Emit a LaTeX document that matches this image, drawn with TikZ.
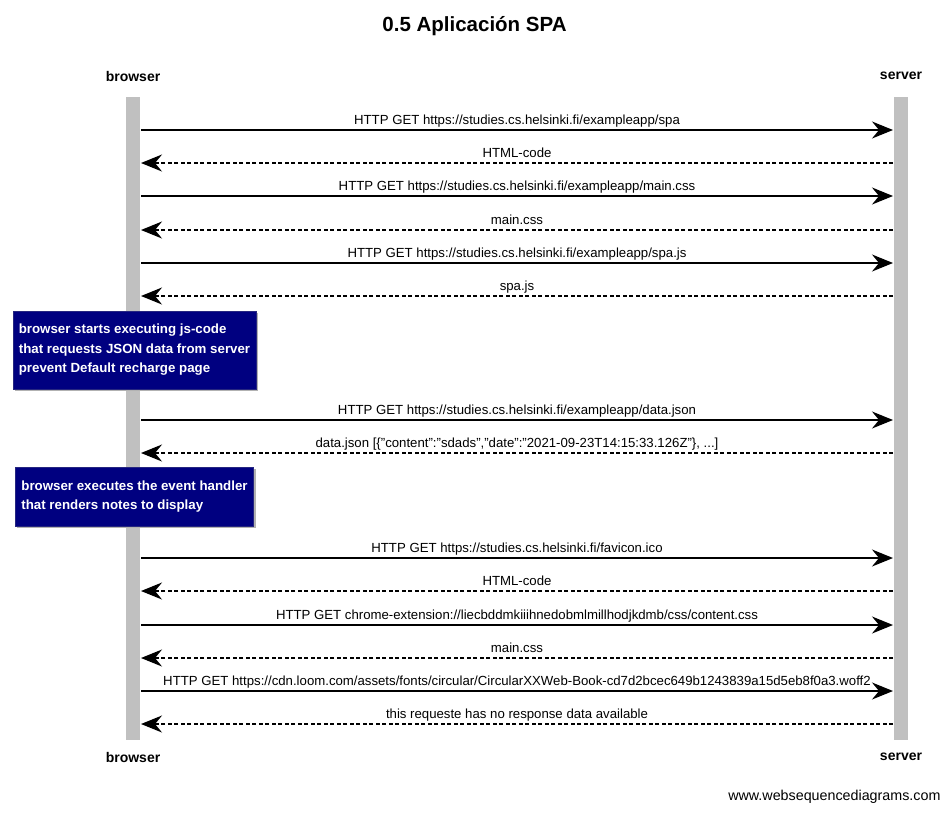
\documentclass[tikz,border=0pt]{standalone}
\usepackage{fontspec}
\setmainfont{Liberation Sans}
\usetikzlibrary{arrows.meta,shadows}
\definecolor{lifegray}{HTML}{C0C0C0}
\definecolor{notenavy}{HTML}{000080}
\tikzset{
  msgreq/.style={line width=1.4pt,-{Stealth[length=21pt,width=17pt,inset=7pt]}},
  msgresp/.style={msgreq,dash pattern=on 4pt off 2.5pt},
  msglabel/.style={midway,above,inner sep=4.5pt,text depth=0pt,font=\fontsize{13.2}{15}\selectfont},
  actor/.style={font=\bfseries\fontsize{14}{16}\selectfont},
  notebox/.style={fill=notenavy,draw=notenavy!70!gray,text=white,align=left,
    font=\bfseries\fontsize{13.3}{19.5}\selectfont,inner xsep=6pt,
    drop shadow={shadow xshift=2pt,shadow yshift=-2pt,fill=gray!60,opacity=1}}
}
\begin{document}
\begin{tikzpicture}[x=1pt,y=-1pt]
        \useasboundingbox[fill=white] (0,0) rectangle (949,812);
        \node[font=\bfseries\fontsize{20.5}{22}\selectfont] (title) at (474.5,26) {0.5 Aplicación SPA};
        % lifelines
        \fill[lifegray] (126,97) rectangle (140,740);
        \fill[lifegray] (894,97) rectangle (908,740);
        \node[actor] (browserTop) at (133,76) {browser};
        \node[actor] (serverTop) at (901,76) {server};
        \node[actor] (browserBot) at (133,757) {browser};
        \node[actor] (serverBot) at (901,757) {server};
        % messages
        \foreach \i/\y/\txt/\sty in {
            1/130/{HTTP GET https://studies.cs.helsinki.fi/exampleapp/spa}/msgreq,
            2/163/{HTML-code}/msgresp,
            3/196/{HTTP GET https://studies.cs.helsinki.fi/exampleapp/main.css}/msgreq,
            4/230/{main.css}/msgresp,
            5/263/{HTTP GET https://studies.cs.helsinki.fi/exampleapp/spa.js}/msgreq,
            6/296/{spa.js}/msgresp,
            7/420/{HTTP GET https://studies.cs.helsinki.fi/exampleapp/data.json}/msgreq,
            8/453/{data.json [\{"content":"sdads","date":"2021-09-23T14:15:33.126Z"\}, ...]}/msgresp,
            9/558/{HTTP GET https://studies.cs.helsinki.fi/favicon.ico}/msgreq,
            10/591/{HTML-code}/msgresp,
            11/625/{HTTP GET chrome-extension://liecbddmkiiihnedobmlmillhodjkdmb/css/content.css}/msgreq,
            12/658/{main.css}/msgresp,
            13/691/{HTTP GET https://cdn.loom.com/assets/fonts/circular/CircularXXWeb-Book-cd7d2bcec649b1243839a15d5eb8f0a3.woff2}/msgreq,
            14/724/{this requeste has no response data available}/msgresp}
        {
            \coordinate (B\i) at (141,\y);
            \coordinate (S\i) at (893,\y);
            \ifodd\i
                \draw[\sty] (B\i) -- (S\i) node[msglabel]{\txt};
            \else
                \draw[\sty] (S\i) -- (B\i) node[msglabel]{\txt};
            \fi
        }
        % notes
        \node[notebox,minimum height=78pt] (note1) at (134.5,350)
            {browser starts executing js-code\\that requests JSON data from server\\prevent Default recharge page};
        \node[notebox,minimum height=59pt] (note2) at (134.5,496.5)
            {browser executes the event handler\\that renders notes to display};
        \node[anchor=east,font=\fontsize{14.3}{16}\selectfont] (footer) at (944,797) {www.websequencediagrams.com};
\end{tikzpicture}
\end{document}
